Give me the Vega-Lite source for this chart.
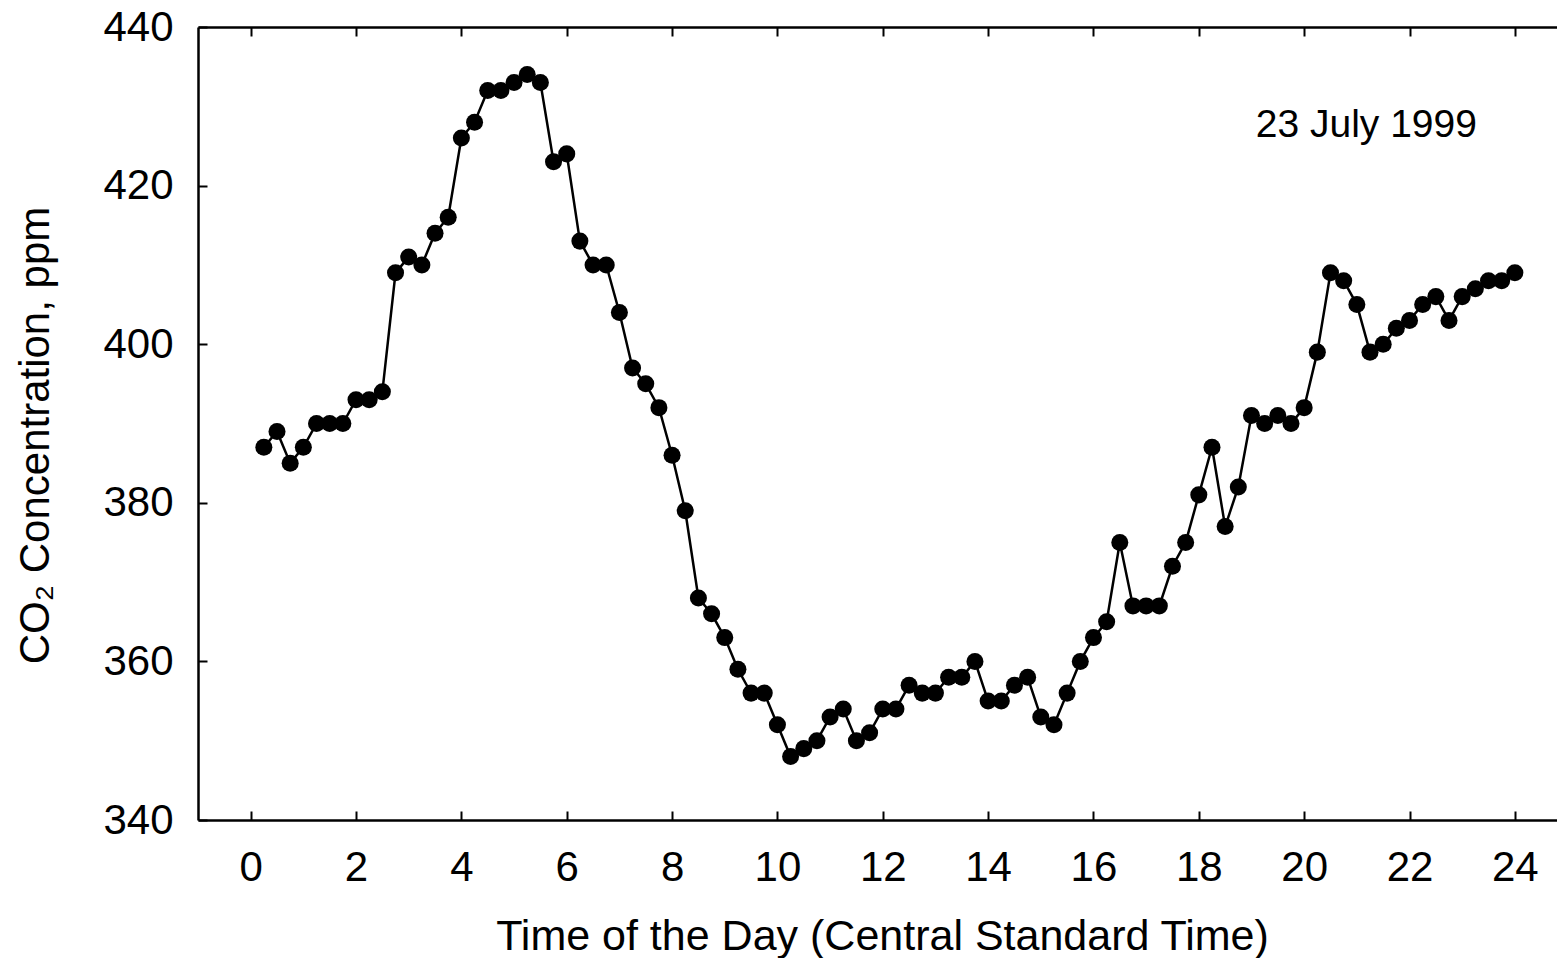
{
  "$schema": "https://vega.github.io/schema/vega-lite/v6.json",
  "width": 1359,
  "height": 793,
  "autosize": "none",
  "padding": {"left": 198, "top": 27, "right": 0, "bottom": 138},
  "background": "white",
  "config": {
    "view": {"stroke": null},
    "font": "Liberation Sans",
    "axis": {
      "domainColor": "black", "domainWidth": 2.5,
      "tickColor": "black", "tickWidth": 2, "tickSize": -9,
      "labelColor": "black", "labelFont": "Liberation Sans", "labelFontSize": 42,
      "labelFlush": false, "labelOverlap": false,
      "titleColor": "black", "titleFont": "Liberation Sans", "titleFontSize": 42, "titleFontWeight": "normal",
      "grid": false
    }
  },
  "data": {"values": [
    {"t":0.25,"co2":387},{"t":0.5,"co2":389},{"t":0.75,"co2":385},{"t":1.0,"co2":387},
    {"t":1.25,"co2":390},{"t":1.5,"co2":390},{"t":1.75,"co2":390},{"t":2.0,"co2":393},
    {"t":2.25,"co2":393},{"t":2.5,"co2":394},{"t":2.75,"co2":409},{"t":3.0,"co2":411},
    {"t":3.25,"co2":410},{"t":3.5,"co2":414},{"t":3.75,"co2":416},{"t":4.0,"co2":426},
    {"t":4.25,"co2":428},{"t":4.5,"co2":432},{"t":4.75,"co2":432},{"t":5.0,"co2":433},
    {"t":5.25,"co2":434},{"t":5.5,"co2":433},{"t":5.75,"co2":423},{"t":6.0,"co2":424},
    {"t":6.25,"co2":413},{"t":6.5,"co2":410},{"t":6.75,"co2":410},{"t":7.0,"co2":404},
    {"t":7.25,"co2":397},{"t":7.5,"co2":395},{"t":7.75,"co2":392},{"t":8.0,"co2":386},
    {"t":8.25,"co2":379},{"t":8.5,"co2":368},{"t":8.75,"co2":366},{"t":9.0,"co2":363},
    {"t":9.25,"co2":359},{"t":9.5,"co2":356},{"t":9.75,"co2":356},{"t":10.0,"co2":352},
    {"t":10.25,"co2":348},{"t":10.5,"co2":349},{"t":10.75,"co2":350},{"t":11.0,"co2":353},
    {"t":11.25,"co2":354},{"t":11.5,"co2":350},{"t":11.75,"co2":351},{"t":12.0,"co2":354},
    {"t":12.25,"co2":354},{"t":12.5,"co2":357},{"t":12.75,"co2":356},{"t":13.0,"co2":356},
    {"t":13.25,"co2":358},{"t":13.5,"co2":358},{"t":13.75,"co2":360},{"t":14.0,"co2":355},
    {"t":14.25,"co2":355},{"t":14.5,"co2":357},{"t":14.75,"co2":358},{"t":15.0,"co2":353},
    {"t":15.25,"co2":352},{"t":15.5,"co2":356},{"t":15.75,"co2":360},{"t":16.0,"co2":363},
    {"t":16.25,"co2":365},{"t":16.5,"co2":375},{"t":16.75,"co2":367},{"t":17.0,"co2":367},
    {"t":17.25,"co2":367},{"t":17.5,"co2":372},{"t":17.75,"co2":375},{"t":18.0,"co2":381},
    {"t":18.25,"co2":387},{"t":18.5,"co2":377},{"t":18.75,"co2":382},{"t":19.0,"co2":391},
    {"t":19.25,"co2":390},{"t":19.5,"co2":391},{"t":19.75,"co2":390},{"t":20.0,"co2":392},
    {"t":20.25,"co2":399},{"t":20.5,"co2":409},{"t":20.75,"co2":408},{"t":21.0,"co2":405},
    {"t":21.25,"co2":399},{"t":21.5,"co2":400},{"t":21.75,"co2":402},{"t":22.0,"co2":403},
    {"t":22.25,"co2":405},{"t":22.5,"co2":406},{"t":22.75,"co2":403},{"t":23.0,"co2":406},
    {"t":23.25,"co2":407},{"t":23.5,"co2":408},{"t":23.75,"co2":408},{"t":24.0,"co2":409}
  ]},
  "layer": [
    {
      "mark": {"type": "line", "color": "black", "strokeWidth": 2.5},
      "encoding": {
        "x": {"field": "t", "type": "quantitative",
              "scale": {"domain": [-1, 24.8], "nice": false, "zero": false},
              "axis": {"orient": "bottom", "values": [0,2,4,6,8,10,12,14,16,18,20,22,24],
                       "labelPadding": 36,
                       "title": "Time of the Day (Central Standard Time)",
                       "titleFontSize": 43,
                       "titleX": 684, "titleY": 129, "titleBaseline": "alphabetic", "titleAlign": "center"}},
        "y": {"field": "co2", "type": "quantitative",
              "scale": {"domain": [340, 440], "nice": false, "zero": false},
              "axis": {"orient": "left", "values": [340,360,380,400,420,440],
                       "labelPadding": 34,
                       "title": "CO₂ Concentration, ppm",
                       "titleX": -150, "titleY": 408, "titleBaseline": "alphabetic", "titleAngle": -90, "titleAlign": "center"}}
      }
    },
    {
      "mark": {"type": "circle", "color": "black", "size": 290, "opacity": 1},
      "encoding": {
        "x": {"field": "t", "type": "quantitative",
              "axis": {"orient": "top", "values": [0,2,4,6,8,10,12,14,16,18,20,22,24], "labels": false, "title": null}},
        "y": {"field": "co2", "type": "quantitative"}
      }
    },
    {
      "data": {"values": [{"note": "23 July 1999"}]},
      "mark": {"type": "text", "font": "Liberation Sans", "fontSize": 39, "align": "right", "baseline": "alphabetic", "color": "black"},
      "encoding": {
        "text": {"field": "note"},
        "x": {"datum": 23.28, "type": "quantitative", "axis": null},
        "y": {"datum": 426.1, "type": "quantitative"}
      }
    }
  ],
  "resolve": {"axis": {"x": "independent"}}
}
